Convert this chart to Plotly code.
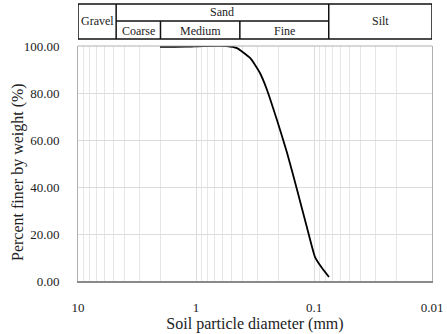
import numpy as np
import plotly.graph_objects as go

# Data
diameter_mm = [2.02, 1.2, 0.87, 0.55, 0.45, 0.348, 0.287, 0.25, 0.206, 0.169, 0.139, 0.115, 0.098, 0.0855, 0.0747]
percent_finer = [99.6, 99.7, 100.0, 100.0, 99.1, 94.9, 88.5, 81.3, 68.5, 54.5, 38.7, 23.0, 10.2, 5.5, 1.7]

x_ticks = [10, 1, 0.1, 0.01]
x_tick_labels = ["10", "1", "0.1", "0.01"]
y_ticks = [0, 20, 40, 60, 80, 100]

# Soil classification boundaries (mm)
gravel_sand = 4.75
coarse_medium = 2.0
medium_fine = 0.425
sand_silt = 0.075
x_max, x_min = 10, 0.01

FONT = "Liberation Serif"

fig = go.Figure()
fig.add_trace(go.Scatter(
    x=diameter_mm, y=percent_finer, mode="lines",
    line=dict(color="black", width=1.8, shape="spline", smoothing=0.5),
    showlegend=False, hoverinfo="skip"))

# Table geometry in paper coords
t_top, t_mid, t_bot = 1.179, 1.106, 1.030
line_style = dict(color="#111", width=1.5)
shapes = []
shapes.append(dict(type="rect", xref="x", yref="paper", x0=x_max, x1=x_min, y0=t_bot, y1=t_top, line=line_style))
for b in [gravel_sand, sand_silt]:
    shapes.append(dict(type="line", xref="x", yref="paper", x0=b, x1=b, y0=t_bot, y1=t_top, line=line_style))
shapes.append(dict(type="line", xref="x", yref="paper", x0=gravel_sand, x1=sand_silt, y0=t_mid, y1=t_mid, line=line_style))
for b in [coarse_medium, medium_fine]:
    shapes.append(dict(type="line", xref="x", yref="paper", x0=b, x1=b, y0=t_bot, y1=t_mid, line=line_style))
shapes.append(dict(type="line", xref="paper", yref="paper", x0=0, x1=1, y0=1, y1=1, line=dict(color="#b0b0b0", width=1)))

def gmean(a, b):
    return float(np.log10(np.sqrt(a * b)))

ann_font = dict(family=FONT, size=12, color="#222")
anns = [
    dict(text="Gravel", x=gmean(x_max, gravel_sand), y=(t_top + t_bot) / 2),
    dict(text="Sand", x=gmean(gravel_sand, sand_silt), y=(t_top + t_mid) / 2 + 0.004),
    dict(text="Coarse", x=gmean(gravel_sand, coarse_medium), y=(t_mid + t_bot) / 2 - 0.004),
    dict(text="Medium", x=gmean(coarse_medium, medium_fine), y=(t_mid + t_bot) / 2 - 0.004),
    dict(text="Fine", x=gmean(medium_fine, sand_silt), y=(t_mid + t_bot) / 2 - 0.004),
    dict(text="Silt", x=gmean(sand_silt, x_min), y=(t_top + t_bot) / 2),
]
annotations = [dict(a, xref="x", yref="paper", showarrow=False, font=ann_font, xanchor="center", yanchor="middle") for a in anns]
# y-axis title as annotation (slightly below plot centre, as in the reference)
annotations.append(dict(
    text="Percent finer by weight (%)", xref="paper", yref="paper",
    x=-0.17, y=0.463, textangle=-90, showarrow=False,
    xanchor="center", yanchor="middle",
    font=dict(family=FONT, size=16, color="#222")))

fig.update_layout(
    width=447, height=334,
    margin=dict(l=78, r=15, t=46, b=53),
    paper_bgcolor="white", plot_bgcolor="white",
    font=dict(family=FONT, color="#222"),
    shapes=shapes, annotations=annotations,
    showlegend=False,
)
fig.update_xaxes(
    type="log", range=[np.log10(x_max), np.log10(x_min)],
    tickvals=x_ticks, ticktext=x_tick_labels,
    tickfont=dict(family=FONT, size=13, color="#222"),
    ticks="outside", ticklen=13, tickcolor="rgba(0,0,0,0)",
    showgrid=True, gridcolor="#dcdcdc", gridwidth=1,
    minor=dict(dtick="D1", showgrid=True, gridcolor="#e6e6e6", gridwidth=1, ticks=""),
    showline=True, linecolor="#8a8a8a", linewidth=2,
    zeroline=False, automargin=False,
    title=dict(text="Soil particle diameter (mm)", font=dict(family=FONT, size=16, color="#222"), standoff=3),
)
fig.update_yaxes(
    range=[0, 100], tickvals=y_ticks, tickformat=".2f",
    tickfont=dict(family=FONT, size=13, color="#222"),
    ticks="outside", ticklen=15, tickcolor="rgba(0,0,0,0)",
    showgrid=True, gridcolor="#dcdcdc", gridwidth=1,
    showline=True, linecolor="#b0b0b0", linewidth=1, mirror=True,
    zeroline=False, automargin=False,
)

fig.write_html("out.html")
